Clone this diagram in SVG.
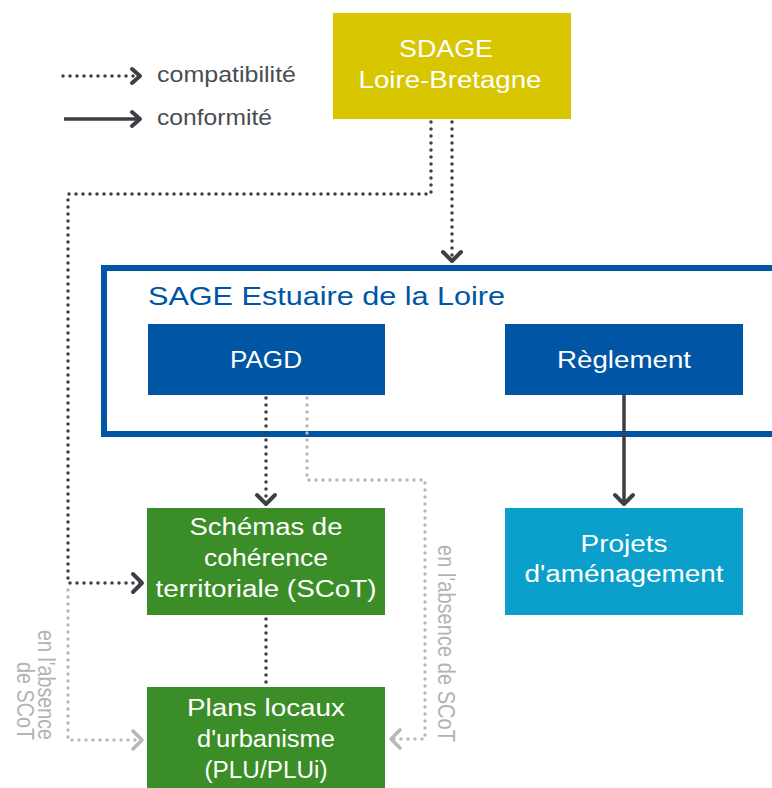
<svg xmlns="http://www.w3.org/2000/svg" width="772" height="788" viewBox="0 0 772 788">
  <style>
    text { font-family: "Liberation Sans", Arial, sans-serif; }
    .box-t { fill: #ffffff; font-size: 23px; text-anchor: middle; }
    .legend-t { fill: #4a4d52; font-size: 22px; }
    .grey-t { fill: #b3b3b3; font-size: 19px; }
    .dot-dark { fill: none; stroke: #3c3f44; stroke-width: 3.5; stroke-linecap: round; stroke-linejoin: round; stroke-dasharray: 0 7; }
    .dot-grey { fill: none; stroke: #b8b8b8; stroke-width: 3.4; stroke-linecap: round; stroke-linejoin: round; stroke-dasharray: 0 7; }
    .solid-dark { fill: none; stroke: #3c3f44; stroke-width: 3.5; }
  </style>
  <defs>
    <marker id="chev-dark" markerUnits="userSpaceOnUse" viewBox="-14 -14 28 28" markerWidth="28" markerHeight="28" refX="0" refY="0" orient="auto" overflow="visible">
      <path d="M-9,-9 L0,0 L-9,9" fill="none" stroke="#3c3f44" stroke-width="4" stroke-linecap="round" stroke-linejoin="round"/>
    </marker>
    <marker id="chev-grey" markerUnits="userSpaceOnUse" viewBox="-14 -14 28 28" markerWidth="28" markerHeight="28" refX="0" refY="0" orient="auto" overflow="visible">
      <path d="M-9,-9 L0,0 L-9,9" fill="none" stroke="#b8b8b8" stroke-width="3.6" stroke-linecap="round" stroke-linejoin="round"/>
    </marker>
    <marker id="chev-legend" markerUnits="userSpaceOnUse" viewBox="-14 -14 28 28" markerWidth="28" markerHeight="28" refX="0" refY="0" orient="auto" overflow="visible">
      <path d="M-8,-7 L0,0 L-8,7" fill="none" stroke="#3c3f44" stroke-width="4" stroke-linecap="round" stroke-linejoin="round"/>
    </marker>
  </defs>

  <rect width="772" height="788" fill="#ffffff"/>

  <g id="legend">
    <path class="dot-dark" d="M63,76 H140" marker-end="url(#chev-legend)"/>
    <text class="legend-t" x="157" y="82" textLength="139" lengthAdjust="spacingAndGlyphs">compatibilité</text>
    <path class="solid-dark" d="M64,119 H140" marker-end="url(#chev-legend)"/>
    <text class="legend-t" x="157" y="125" textLength="115" lengthAdjust="spacingAndGlyphs">conformité</text>
  </g>

  <g id="sdage">
    <rect x="333" y="13" width="238" height="106" fill="#d7c600"/>
    <text class="box-t" x="446" y="57" style="font-size:24px" textLength="94" lengthAdjust="spacingAndGlyphs">SDAGE</text>
    <text class="box-t" x="450" y="88" style="font-size:24px" textLength="183" lengthAdjust="spacingAndGlyphs">Loire-Bretagne</text>
  </g>

  <g id="sage">
    <rect x="104" y="268" width="700" height="166" fill="none" stroke="#0055a4" stroke-width="6"/>
    <text x="148" y="305" fill="#0055a4" font-size="26" textLength="357" lengthAdjust="spacingAndGlyphs">SAGE Estuaire de la Loire</text>
  </g>

  <g id="pagd">
    <rect x="148" y="324" width="237" height="71" fill="#0055a4"/>
    <text class="box-t" x="266" y="368" textLength="72" lengthAdjust="spacingAndGlyphs">PAGD</text>
  </g>

  <g id="reglement">
    <rect x="505" y="324" width="238" height="71" fill="#0055a4"/>
    <text class="box-t" x="624" y="368" textLength="134" lengthAdjust="spacingAndGlyphs">Règlement</text>
  </g>

  <g id="scot">
    <rect x="147" y="508" width="238" height="107" fill="#3b8e27"/>
    <text class="box-t" x="266" y="535" textLength="153" lengthAdjust="spacingAndGlyphs">Schémas de</text>
    <text class="box-t" x="266" y="566" textLength="124" lengthAdjust="spacingAndGlyphs">cohérence</text>
    <text class="box-t" x="266" y="597" textLength="221" lengthAdjust="spacingAndGlyphs">territoriale (SCoT)</text>
  </g>

  <g id="projets">
    <rect x="505" y="508" width="238" height="107" fill="#0b9fcb"/>
    <text class="box-t" x="624" y="552" textLength="87" lengthAdjust="spacingAndGlyphs">Projets</text>
    <text class="box-t" x="624" y="582" textLength="199" lengthAdjust="spacingAndGlyphs">d'aménagement</text>
  </g>

  <g id="plu">
    <rect x="147" y="687" width="238" height="110" fill="#3b8e27"/>
    <text class="box-t" x="266" y="716" textLength="158" lengthAdjust="spacingAndGlyphs">Plans locaux</text>
    <text class="box-t" x="266" y="747" textLength="138" lengthAdjust="spacingAndGlyphs">d'urbanisme</text>
    <text class="box-t" x="266" y="778" textLength="123" lengthAdjust="spacingAndGlyphs">(PLU/PLUi)</text>
  </g>

  <g id="connectors">
    <path class="dot-dark" d="M452,122 V261" marker-end="url(#chev-dark)"/>
    <path class="dot-dark" d="M431,122 V194 H68 V583 H142" marker-end="url(#chev-dark)"/>
    <path class="dot-grey" d="M68,590 V740 H142" marker-end="url(#chev-grey)"/>
    <path class="dot-dark" d="M266,398 V504" marker-end="url(#chev-dark)"/>
    <path class="dot-grey" d="M307,398 V480 H425 V739 H391" marker-end="url(#chev-grey)"/>
    <path class="dot-dark" d="M266,619 V684"/>
    <path class="solid-dark" d="M624,395 V504" marker-end="url(#chev-dark)"/>
  </g>

  <g id="labels-absence">
    <text class="grey-t" transform="translate(38,740) scale(1.25,1) rotate(90)" text-anchor="end" textLength="110" lengthAdjust="spacingAndGlyphs">en l'absence</text>
    <text class="grey-t" transform="translate(17,740) scale(1.25,1) rotate(90)" text-anchor="end" textLength="78" lengthAdjust="spacingAndGlyphs">de SCoT</text>
    <text class="grey-t" transform="translate(438,545) scale(1.25,1) rotate(90)" textLength="197" lengthAdjust="spacingAndGlyphs">en l'absence de SCoT</text>
  </g>
</svg>
